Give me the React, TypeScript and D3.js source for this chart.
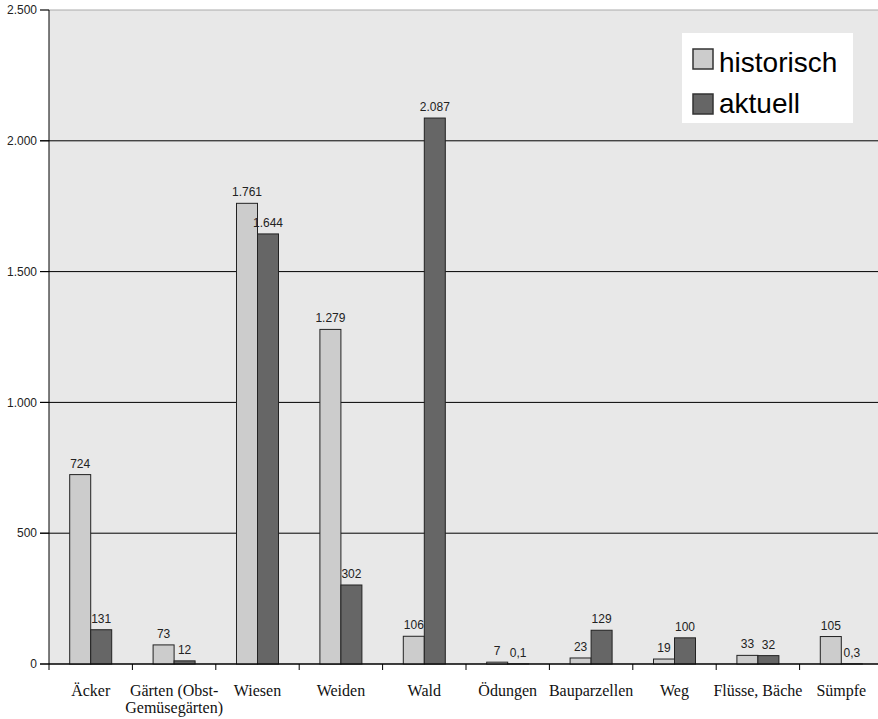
import React from 'react'
import * as d3 from 'd3'

const categories = [
  'Äcker',
  'Gärten (Obst-\nGemüsegärten)',
  'Wiesen',
  'Weiden',
  'Wald',
  'Ödungen',
  'Bauparzellen',
  'Weg',
  'Flüsse, Bäche',
  'Sümpfe',
]
const historisch = [724, 73, 1761, 1279, 106, 7, 23, 19, 33, 105]
const aktuell = [131, 12, 1644, 302, 2087, 0.1, 129, 100, 32, 0.3]
const yTicks = [0, 500, 1000, 1500, 2000, 2500]

const series = [
  { name: 'historisch', values: historisch, color: '#cccccc' },
  { name: 'aktuell', values: aktuell, color: '#666666' },
]

const de = d3.formatLocale({
  decimal: ',',
  thousands: '.',
  grouping: [3],
  currency: ['', ' €'],
})
const fmtInt = de.format(',d')
const fmtVal = (v: number) => (Number.isInteger(v) ? fmtInt(v) : de.format(',.1f')(v))

const W = 878
const H = 719
const left = 49
const right = 883
const top = 10
const bottom = 664
const barW = 21

const App = () => {
  const x = d3.scaleBand().domain(categories).range([left, right]).padding(0)
  const y = d3.scaleLinear().domain([0, 2500]).range([bottom, top])
  const sub = d3
    .scaleBand()
    .domain(series.map((s) => s.name))
    .range([0, barW * 2])

  return (
    <svg width={W} height={H} style={{ position: 'absolute', left: 0, top: 0, background: '#fff' }}>
      <rect x={left} y={top} width={W - left} height={bottom - top} fill="#e8e8e8" />
      {yTicks.map((t) => (
        <g key={t}>
          <line
            x1={left - 9}
            x2={W}
            y1={y(t)}
            y2={y(t)}
            stroke={t === 2500 ? '#aaa' : '#000'}
            strokeWidth={1}
          />
          <line x1={left - 9} x2={left} y1={y(t)} y2={y(t)} stroke="#000" />
          <text
            x={left - 12}
            y={y(t)}
            dy="0.35em"
            textAnchor="end"
            fontFamily="Liberation Sans, Arial, sans-serif"
            fontSize={12}
            fill="#222"
          >
            {fmtInt(t)}
          </text>
        </g>
      ))}
      <line x1={left} x2={left} y1={top} y2={bottom} stroke="#000" />
      {categories.map((c, i) => (
        <g key={c}>
          <line
            x1={x(c)!}
            x2={x(c)!}
            y1={bottom}
            y2={bottom + 6}
            stroke="#000"
          />
          {series.map((s) => {
            const v = s.values[i]
            const bx = x(c)! + x.bandwidth() / 2 - barW + sub(s.name)!
            return (
              <g key={s.name}>
                <rect
                  x={bx}
                  y={y(v)}
                  width={barW}
                  height={bottom - y(v)}
                  fill={s.color}
                  stroke="#222"
                  strokeWidth={1}
                />
                <text
                  x={bx + barW / 2}
                  y={y(v) - 7}
                  textAnchor="middle"
                  fontFamily="Liberation Sans, Arial, sans-serif"
                  fontSize={12}
                  fill="#222"
                >
                  {fmtVal(v)}
                </text>
              </g>
            )
          })}
          <text
            x={x(c)! + x.bandwidth() / 2}
            y={696}
            textAnchor="middle"
            fontFamily="Liberation Serif, Times New Roman, serif"
            fontSize={16}
            fill="#111"
          >
            {c.split('\n').map((line, j) => (
              <tspan key={j} x={x(c)! + x.bandwidth() / 2} dy={j === 0 ? 0 : 17}>
                {line}
              </tspan>
            ))}
          </text>
        </g>
      ))}
      <line x1={left} x2={W} y1={bottom} y2={bottom} stroke="#000" />
      <g>
        <rect x={682} y={33} width={171} height={90} fill="#fff" />
        {series.map((s, i) => (
          <g key={s.name}>
            <rect x={693} y={49 + i * 45} width={20} height={20} fill={s.color} stroke="#333" strokeWidth={1.5} />
            <text
              x={719}
              y={72 + i * 41}
              fontFamily="Liberation Sans, Arial, sans-serif"
              fontSize={28}
              fill="#000"
            >
              {s.name}
            </text>
          </g>
        ))}
      </g>
    </svg>
  )
}

export default App
